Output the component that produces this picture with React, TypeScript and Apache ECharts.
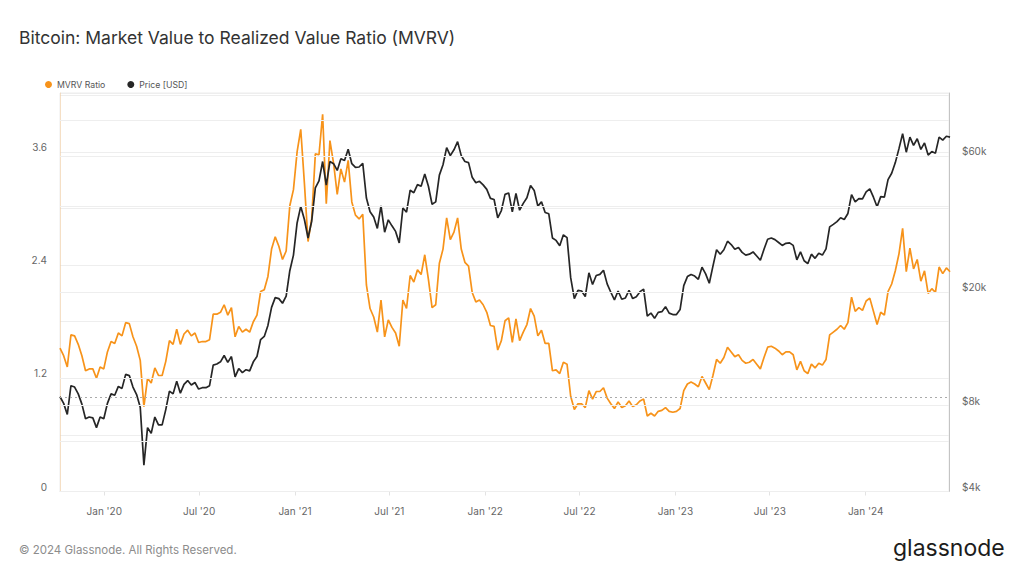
import React, { useEffect, useRef } from 'react';
import * as echarts from 'echarts';

// Weekly samples, first sample on 2019-10-08 (local time), one every 7 days
const START_YEAR = 2019;
const START_MONTH = 9; // October (0-based)
const START_DAY = 8;
const STEP_DAYS = 7;
const X_MIN = [2019, 9, 8];
const X_MAX = [2024, 5, 9];

const X_TICKS = [
  [2020, 0, 1], [2020, 6, 1], [2021, 0, 1], [2021, 6, 1], [2022, 0, 1],
  [2022, 6, 1], [2023, 0, 1], [2023, 6, 1], [2024, 0, 1],
];
const MONTHS = ['Jan', 'Feb', 'Mar', 'Apr', 'May', 'Jun', 'Jul', 'Aug', 'Sep', 'Oct', 'Nov', 'Dec'];

const LEFT_LABEL_STEP = 1.2;
const RIGHT_LABELS = [4000, 8000, 20000, 60000];
const RIGHT_LABEL_TEXT = ['$4k', '$8k', '$20k', '$60k'];
const RIGHT_GRID_ONLY = [6000, 10000, 40000, 80000];
const MVRV_REF = 1;

const PRICE = [
  // 2019
  8600, 8150, 7450, 9400, 9300, 8800, 8100, 7200, 7300, 7250, 6700, 7300, 7200,
  // 2020
  8150, 8800, 8700, 9350, 9200, 10300, 10200, 9300, 8750, 7900, 4950, 6700, 6400,
  7300, 6850, 6850, 7750, 9000, 8800, 9750, 8850, 9500, 9800, 9450, 9650, 9150,
  9250, 9250, 9400, 11100, 11200, 11400, 12000, 11350, 11900, 10100, 10800, 10450, 10700,
  10600, 11400, 11900, 13650, 14000, 15300, 17700, 19150, 19000, 18300, 19400, 23800, 27000,
  // 2021
  35000, 40000, 36000, 31000, 35500, 46500, 49200, 57500, 47500, 57500, 56500, 53500, 58800,
  58000, 63500, 56500, 54800, 55000, 56700, 42800, 38300, 36700, 33500, 40200, 32500, 35900,
  34200, 32700, 29800, 39500, 38200, 45600, 44700, 47700, 47100, 52000, 47100, 40700, 41500,
  51500, 56000, 64300, 60300, 63200, 67500, 60300, 57500, 57000, 50600, 48400, 49000, 47600,
  // 2022
  45900, 42700, 42300, 36500, 38700, 44100, 44600, 38300, 44400, 38800, 41000, 42900, 47400,
  45500, 40100, 41500, 38100, 37700, 31000, 30400, 29100, 31800, 31100, 22500, 19000, 20300,
  20200, 19300, 23400, 21300, 22900, 23100, 23900, 21400, 20000, 18800, 20200, 18900, 19100,
  20300, 19000, 19300, 20100, 20500, 16500, 16900, 16200, 17000, 17100, 17800, 16900, 16700,
  // 2023
  16700, 17400, 21100, 22700, 23100, 22800, 22200, 24500, 23200, 21500, 24700, 28200, 27200,
  28200, 30200, 29400, 28300, 28700, 27600, 27000, 27200, 27700, 26800, 25900, 28300, 30700,
  31000, 30600, 29900, 29200, 29700, 29800, 29200, 26000, 27700, 25800, 25200, 27200, 26300,
  27400, 27000, 28400, 33900, 34600, 35400, 36500, 36000, 37800, 44000, 41500, 42600, 42500,
  // 2024
  45000, 46100, 43100, 39900, 43300, 43100, 49700, 52300, 57000, 63800, 72000, 62000, 70000,
  65500, 69100, 63400, 66800, 60600, 62300, 61500, 70000, 68300, 70500, 70000,
];

const MVRV = [
  // 2019
  1.52, 1.44, 1.32, 1.66, 1.65, 1.56, 1.44, 1.28, 1.30, 1.30, 1.20, 1.32, 1.30,
  // 2020
  1.48, 1.59, 1.57, 1.68, 1.65, 1.79, 1.78, 1.64, 1.54, 1.39, 0.90, 1.20, 1.15,
  1.31, 1.23, 1.23, 1.38, 1.60, 1.56, 1.72, 1.56, 1.67, 1.71, 1.65, 1.68, 1.58,
  1.59, 1.59, 1.61, 1.88, 1.88, 1.90, 1.98, 1.87, 1.95, 1.64, 1.75, 1.69, 1.72,
  1.69, 1.80, 1.87, 2.12, 2.14, 2.28, 2.57, 2.70, 2.60, 2.46, 2.55, 3.03, 3.20,
  // 2021
  3.60, 3.84, 3.27, 2.65, 2.89, 3.58, 3.57, 4.00, 3.05, 3.72, 3.48, 3.15, 3.42,
  3.28, 3.51, 3.07, 2.93, 2.89, 2.94, 2.19, 1.94, 1.85, 1.69, 2.03, 1.64, 1.82,
  1.74, 1.68, 1.54, 2.03, 1.94, 2.29, 2.22, 2.35, 2.30, 2.51, 2.25, 1.95, 1.98,
  2.42, 2.57, 2.90, 2.67, 2.75, 2.90, 2.57, 2.43, 2.39, 2.11, 2.01, 2.03, 1.98,
  // 2022
  1.90, 1.76, 1.75, 1.50, 1.60, 1.81, 1.84, 1.58, 1.83, 1.60, 1.69, 1.77, 1.94,
  1.86, 1.65, 1.71, 1.57, 1.57, 1.28, 1.29, 1.25, 1.37, 1.35, 1.01, 0.87, 0.93,
  0.93, 0.89, 1.07, 0.98, 1.06, 1.06, 1.10, 0.99, 0.93, 0.88, 0.95, 0.89, 0.91,
  0.96, 0.90, 0.92, 0.96, 0.98, 0.80, 0.83, 0.80, 0.85, 0.86, 0.89, 0.85, 0.84,
  // 2023
  0.85, 0.88, 1.07, 1.14, 1.16, 1.14, 1.11, 1.22, 1.15, 1.08, 1.23, 1.40, 1.36,
  1.42, 1.53, 1.48, 1.43, 1.45, 1.39, 1.36, 1.37, 1.40, 1.35, 1.30, 1.42, 1.53,
  1.54, 1.52, 1.49, 1.45, 1.48, 1.48, 1.45, 1.29, 1.38, 1.28, 1.25, 1.35, 1.31,
  1.36, 1.34, 1.40, 1.66, 1.69, 1.72, 1.76, 1.72, 1.79, 2.06, 1.91, 1.95, 1.92,
  // 2024
  2.02, 2.05, 1.91, 1.77, 1.90, 1.87, 2.12, 2.20, 2.34, 2.52, 2.79, 2.33, 2.58,
  2.36, 2.46, 2.23, 2.34, 2.10, 2.15, 2.11, 2.38, 2.31, 2.37, 2.33,
];

const ORANGE = '#f7931a';
const BLACK = '#262626';
const GRID_COLOR = '#eeeeee';
const LABEL_COLOR = '#666666';
const FONT = 'Inter, "Noto Sans", sans-serif';

function ts(parts: number[]): number {
  return new Date(parts[0], parts[1], parts[2]).getTime();
}

function sampleTime(i: number): number {
  return new Date(START_YEAR, START_MONTH, START_DAY + STEP_DAYS * i).getTime();
}

export default function App() {
  const ref = useRef<HTMLDivElement>(null);

  useEffect(() => {
    if (!ref.current) return;
    const chart = echarts.init(ref.current, undefined, { renderer: 'svg' });

    const mvrvData = MVRV.map((v, i) => [sampleTime(i), v]);
    const priceData = PRICE.map((v, i) => [sampleTime(i), v]);
    const xTicks = X_TICKS.map(ts);

    const rightLines = [
      ...RIGHT_LABELS.map((v, i) => ({
        yAxis: v,
        label: { show: true, formatter: RIGHT_LABEL_TEXT[i] },
      })),
      ...RIGHT_GRID_ONLY.map((v) => ({ yAxis: v, label: { show: false } })),
    ];

    chart.setOption({
      animation: false,
      backgroundColor: '#ffffff',
      textStyle: { fontFamily: FONT },
      title: {
        text: 'Bitcoin: Market Value to Realized Value Ratio (MVRV)',
        left: 19,
        top: 28,
        padding: 0,
        textStyle: { fontSize: 17.5, fontWeight: 'normal', color: '#333333', fontFamily: FONT },
      },
      legend: {
        data: ['MVRV Ratio', 'Price [USD]'],
        left: 45,
        top: 80,
        padding: 0,
        icon: 'circle',
        itemWidth: 7,
        itemHeight: 7,
        itemGap: 22,
        textStyle: { fontSize: 8.7, color: '#555555', fontFamily: FONT },
      },
      grid: {
        left: 60,
        right: 75,
        top: 93,
        bottom: 84.5,
        show: true,
        borderWidth: 1,
        borderColor: '#ececec',
      },
      xAxis: {
        type: 'value',
        min: ts(X_MIN),
        max: ts(X_MAX),
        axisLine: { show: true, lineStyle: { color: '#e3e3e3' } },
        axisTick: { show: true, length: 4, customValues: xTicks, lineStyle: { color: '#e3e3e3' } },
        axisLabel: {
          customValues: xTicks,
          color: LABEL_COLOR,
          fontSize: 10,
          margin: 14,
          hideOverlap: false,
          formatter: (v: number) => {
            const d = new Date(v);
            return `${MONTHS[d.getMonth()]} '${String(d.getFullYear()).slice(2)}`;
          },
        },
        splitLine: { show: false },
      },
      yAxis: [
        {
          type: 'value',
          min: 0,
          max: 4.225,
          interval: 0.6,
          position: 'left',
          axisLine: { show: true, lineStyle: { color: 'rgba(247,147,26,0.22)' } },
          axisTick: { show: false },
          axisLabel: {
            color: LABEL_COLOR,
            fontSize: 10,
            margin: 13,
            verticalAlign: 'bottom',
            formatter: (v: number) => {
              const k = v / LEFT_LABEL_STEP;
              if (Math.abs(k - Math.round(k)) > 1e-6) return '';
              return v === 0 ? '0' : String(Math.round(v * 10) / 10);
            },
          },
          splitLine: { show: true, lineStyle: { color: GRID_COLOR } },
        },
        {
          type: 'log',
          logBase: 10,
          min: 4000,
          max: 100000,
          position: 'right',
          axisLine: { show: true, lineStyle: { color: '#c4c4c4' } },
          axisTick: { show: false },
          axisLabel: { show: false },
          splitLine: { show: false },
        },
      ],
      series: [
        {
          type: 'line',
          yAxisIndex: 1,
          data: [],
          silent: true,
          markLine: {
            silent: true,
            symbol: 'none',
            lineStyle: { color: GRID_COLOR, type: 'solid', width: 1 },
            label: {
              position: 'end',
              distance: 13,
              color: LABEL_COLOR,
              fontSize: 10,
              verticalAlign: 'bottom',
            },
            data: rightLines,
          },
        },
        {
          type: 'line',
          yAxisIndex: 0,
          data: [],
          silent: true,
          markLine: {
            silent: true,
            symbol: 'none',
            lineStyle: { color: '#aaaaaa', type: [2, 3], width: 1 },
            label: { show: false },
            data: [{ yAxis: MVRV_REF }],
          },
        },
        {
          name: 'MVRV Ratio',
          type: 'line',
          yAxisIndex: 0,
          data: mvrvData,
          showSymbol: false,
          symbol: 'none',
          lineStyle: { color: ORANGE, width: 1.7 },
          itemStyle: { color: ORANGE },
        },
        {
          name: 'Price [USD]',
          type: 'line',
          yAxisIndex: 1,
          data: priceData,
          showSymbol: false,
          symbol: 'none',
          lineStyle: { color: BLACK, width: 1.7 },
          itemStyle: { color: BLACK },
        },
      ],
      graphic: [
        {
          type: 'text',
          left: 19,
          top: 544,
          style: {
            text: '© 2024 Glassnode. All Rights Reserved.',
            fill: '#8c8c8c',
            fontSize: 11.5,
            fontFamily: FONT,
          },
        },
        {
          type: 'text',
          left: 893,
          top: 536,
          style: {
            text: 'glassnode',
            fill: '#1c1c1c',
            fontSize: 23,
            fontWeight: 'normal',
            fontFamily: FONT,
          },
        },
      ],
    });

    return () => chart.dispose();
  }, []);

  return (
    <div
      ref={ref}
      style={{ position: 'fixed', left: 0, top: 0, width: 1024, height: 576, background: '#fff' }}
    />
  );
}
